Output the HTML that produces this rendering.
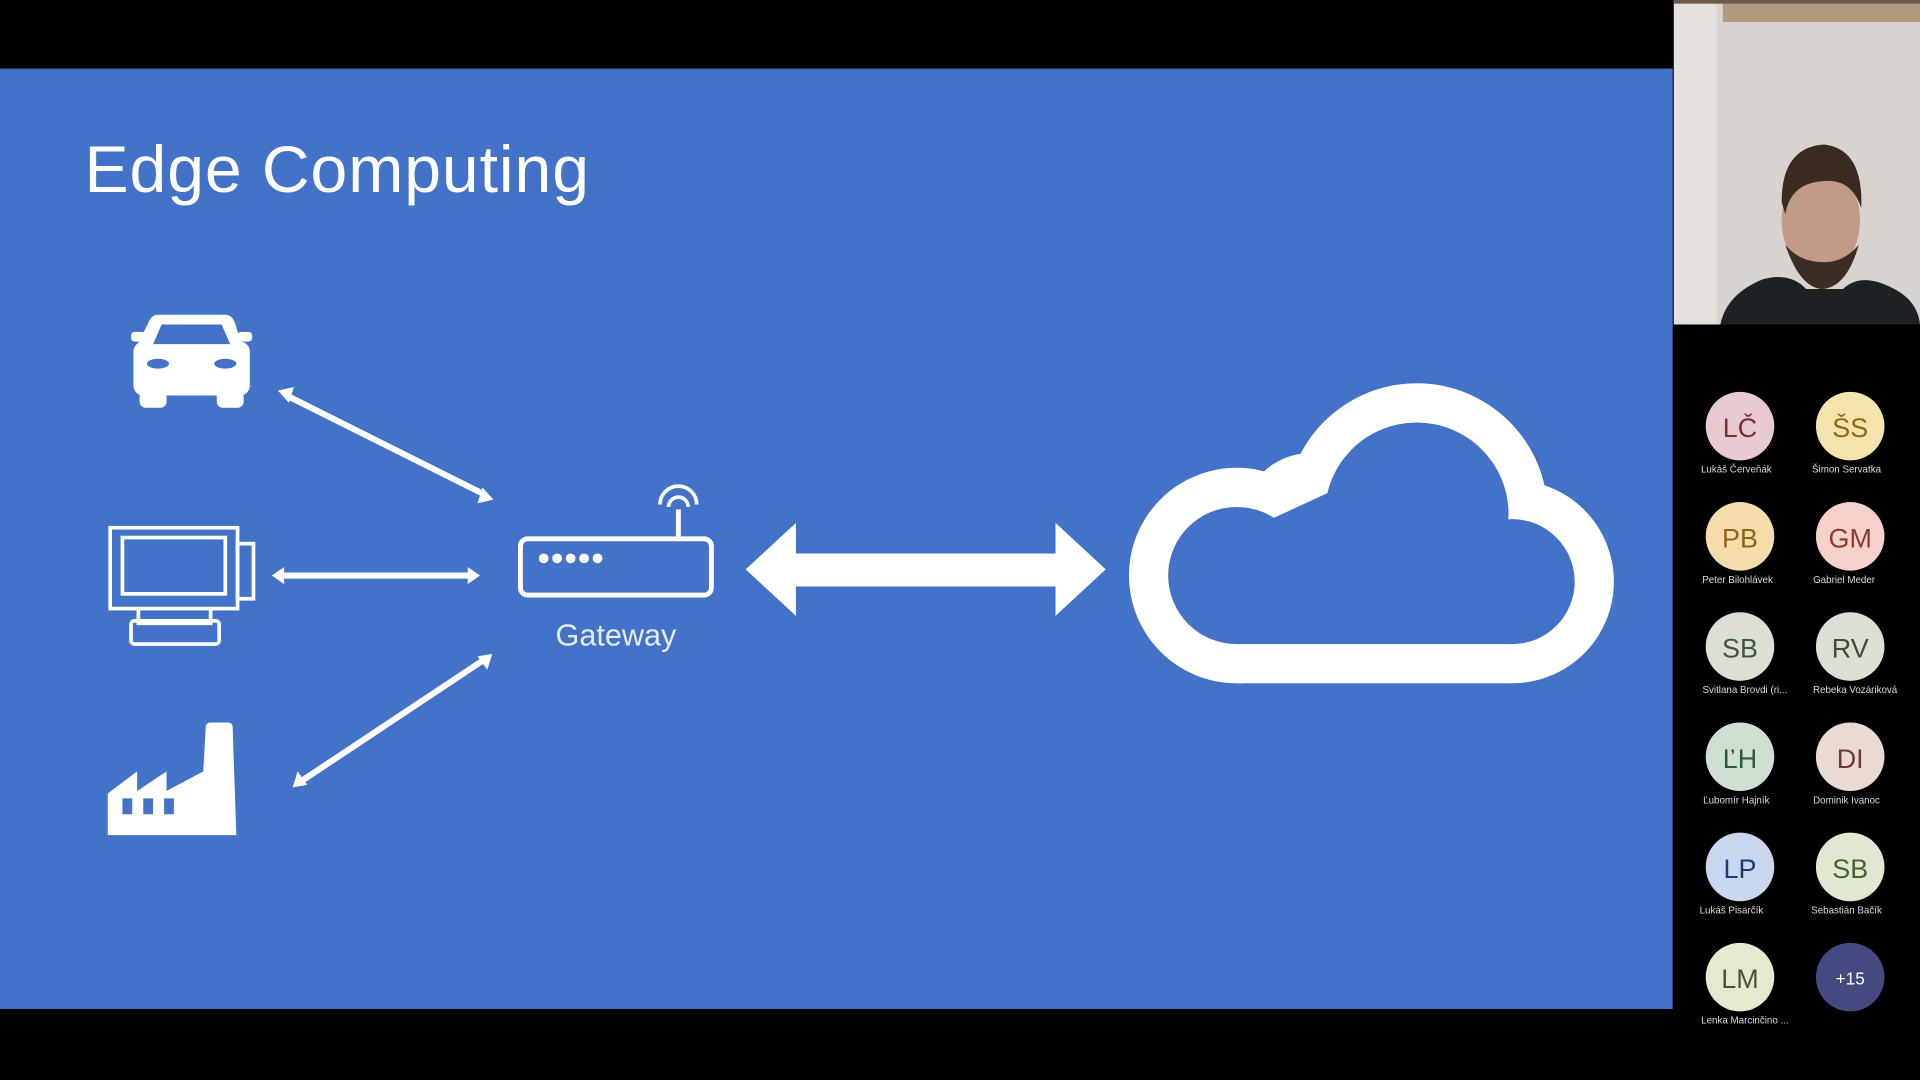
<!DOCTYPE html>
<html><head><meta charset="utf-8"><style>
html,body{margin:0;padding:0;background:#000;}
svg{display:block;}
</style></head><body>
<svg width="1920" height="1080" viewBox="0 0 1568 882" xmlns="http://www.w3.org/2000/svg">
<rect x="0" y="0" width="1568" height="882" fill="#000"/>
<!-- slide -->
<rect x="0" y="56" width="1366" height="768" fill="#4273c8"/>
<text x="69" y="157" font-family="Liberation Sans, sans-serif" font-size="54" fill="#fff" textLength="412">Edge Computing</text>

<!-- car -->
<g fill="#fff">
  <path d="M128,257 L185,257 Q190,258 192,264 L198,284 L111,284 L121,264 Q123,258 128,257 Z"/>
  <rect x="109" y="279" width="95" height="44" rx="8"/>
  <rect x="107" y="271" width="12" height="8" rx="3"/>
  <rect x="194" y="271" width="12" height="8" rx="3"/>
  <rect x="114" y="312" width="22" height="21" rx="5"/>
  <rect x="177" y="312" width="22" height="21" rx="5"/>
</g>
<path d="M132,265 L181,265 L188,281 L125,281 Z" fill="#4273c8"/>
<ellipse cx="129" cy="297" rx="9" ry="4" fill="#4273c8"/>
<ellipse cx="184" cy="297" rx="9" ry="4" fill="#4273c8"/>

<!-- monitor -->
<g fill="none" stroke="#fff" stroke-width="3">
  <rect x="90" y="431" width="104" height="66"/>
  <rect x="100" y="439" width="84" height="46"/>
  <rect x="194" y="444" width="13" height="45"/>
  <path d="M113,497 L113,509 L172,509 L172,497"/>
  <rect x="107" y="507" width="72" height="19" rx="3"/>
</g>

<!-- factory -->
<path d="M88,682 L88,648 L112,630 L112,646 L136,630 L136,646 L166,630 L168,594 Q168,590 172,590 L186,590 Q190,590 190,594 L193,682 Z" fill="#fff"/>
<g fill="#4273c8">
  <rect x="100" y="652" width="8" height="13"/>
  <rect x="117" y="652" width="8" height="13"/>
  <rect x="134" y="652" width="8" height="13"/>
</g>

<!-- small arrows -->
<g stroke="#fff" stroke-width="5" fill="none">
  <line x1="234" y1="323" x2="396" y2="404"/>
  <line x1="229" y1="470" x2="385" y2="470"/>
  <line x1="246" y1="638" x2="395" y2="539"/>
</g>
<g fill="#fff">
  <path d="M227,319 L240,316 L236,329 Z"/>
  <path d="M403,408 L390,411 L394,398 Z"/>
  <path d="M222,470 L232,463 L232,477 Z"/>
  <path d="M392,470 L382,463 L382,477 Z"/>
  <path d="M239,643 L243,630 L251,641 Z"/>
  <path d="M402,534 L398,547 L390,536 Z"/>
</g>

<!-- router -->
<rect x="425" y="440" width="156" height="46" rx="6" fill="none" stroke="#fff" stroke-width="4"/>
<line x1="554" y1="440" x2="554" y2="416" stroke="#fff" stroke-width="4"/>
<path d="M546,414 A8,8 0 0 1 562,414" fill="none" stroke="#fff" stroke-width="3"/>
<path d="M539,412 A15,15 0 0 1 569,412" fill="none" stroke="#fff" stroke-width="3"/>
<g fill="#fff">
  <circle cx="444" cy="456" r="4"/><circle cx="455" cy="456" r="4"/><circle cx="466" cy="456" r="4"/><circle cx="477" cy="456" r="4"/><circle cx="488" cy="456" r="4"/>
</g>
<text x="503" y="527" text-anchor="middle" font-family="Liberation Sans, sans-serif" font-size="25" fill="#e6ecf7">Gateway</text>

<!-- big arrow -->
<path d="M609,465 L650,427 L650,452 L862,452 L862,427 L903,465 L862,503 L862,479 L650,479 L650,503 Z" fill="#fff"/>

<!-- cloud -->
<g fill="#fff">
  <circle cx="1157" cy="420" r="107"/>
  <circle cx="1010" cy="470" r="88"/>
  <circle cx="1235" cy="475" r="83"/>
  <circle cx="1070" cy="425" r="55"/>
  <rect x="1010" y="440" width="225" height="118"/>
</g>
<g fill="#4273c8">
  <circle cx="1157" cy="420" r="75"/>
  <circle cx="1010" cy="470" r="56"/>
  <circle cx="1235" cy="475" r="51"/>
  <rect x="1010" y="440" width="225" height="86"/>
  <path d="M1040,423 L1090,400 L1090,470 L1040,470 Z"/>
</g>

<!-- webcam -->
<rect x="1367" y="0" width="201" height="265" fill="#d9d3cf"/>
<rect x="1367" y="0" width="35" height="265" fill="#e4e0dc"/>
<rect x="1407" y="0" width="161" height="18" fill="#b09a80"/>
<rect x="1367" y="0" width="201" height="3" fill="#6d5a48"/>
<ellipse cx="1487" cy="180" rx="32" ry="44" fill="#c39a86"/>
<path d="M1455,165 Q1455,120 1490,118 Q1522,122 1520,170 Q1512,145 1488,148 Q1462,150 1458,175 Z" fill="#3a2a22"/>
<path d="M1458,200 Q1470,235 1488,236 Q1508,235 1518,200 Q1505,215 1488,214 Q1470,214 1458,200 Z" fill="#3b2c26"/>
<path d="M1405,265 Q1410,240 1440,228 Q1462,222 1475,236 L1505,236 Q1520,222 1545,235 Q1566,245 1568,265 Z" fill="#1d2124"/>

<!-- avatars -->
<g font-family="Liberation Sans, sans-serif" text-anchor="middle">
  <circle cx="1421" cy="348" r="28" fill="#e9cace"/><text x="1421" y="357" font-size="22" fill="#7a2c38">LČ</text>
  <text x="1418" y="386" font-size="8" fill="#ddd">Lukáš Červeňák</text>
  <circle cx="1511" cy="348" r="28" fill="#f5e3ae"/><text x="1511" y="357" font-size="22" fill="#8a6a10">ŠS</text>
  <text x="1508" y="386" font-size="8" fill="#ddd">Šimon Servatka</text>

  <circle cx="1421" cy="438" r="28" fill="#f4dcab"/><text x="1421" y="447" font-size="22" fill="#8a6518">PB</text>
  <text x="1419" y="476" font-size="8" fill="#ddd">Peter Bilohlávek</text>
  <circle cx="1511" cy="438" r="28" fill="#f4d2cb"/><text x="1511" y="447" font-size="22" fill="#8a3b2e">GM</text>
  <text x="1506" y="476" font-size="8" fill="#ddd">Gabriel Meder</text>

  <circle cx="1421" cy="528" r="28" fill="#dcdfd4"/><text x="1421" y="537" font-size="22" fill="#3f5540">SB</text>
  <text x="1425" y="566" font-size="8" fill="#ddd">Svitlana Brovdi (ri...</text>
  <circle cx="1511" cy="528" r="28" fill="#dbe0d4"/><text x="1511" y="537" font-size="22" fill="#3c4d3a">RV</text>
  <text x="1515" y="566" font-size="8" fill="#ddd">Rebeka Vozáriková</text>

  <circle cx="1421" cy="618" r="28" fill="#cfe0d2"/><text x="1421" y="627" font-size="22" fill="#2d5a3a">ĽH</text>
  <text x="1418" y="656" font-size="8" fill="#ddd">Ľubomír Hajník</text>
  <circle cx="1511" cy="618" r="28" fill="#ebd9d3"/><text x="1511" y="627" font-size="22" fill="#6b3a30">DI</text>
  <text x="1508" y="656" font-size="8" fill="#ddd">Dominik Ivanoc</text>

  <circle cx="1421" cy="708" r="28" fill="#c8d6ee"/><text x="1421" y="717" font-size="22" fill="#1f3a70">LP</text>
  <text x="1414" y="746" font-size="8" fill="#ddd">Lukáš Pisarčík</text>
  <circle cx="1511" cy="708" r="28" fill="#e0e8d2"/><text x="1511" y="717" font-size="22" fill="#4a6030">SB</text>
  <text x="1508" y="746" font-size="8" fill="#ddd">Sebastián Bačík</text>

  <circle cx="1421" cy="798" r="28" fill="#e3eacf"/><text x="1421" y="807" font-size="22" fill="#4a5530">LM</text>
  <text x="1425" y="836" font-size="8" fill="#ddd">Lenka Marcinčino ...</text>
  <circle cx="1511" cy="798" r="28" fill="#444a80"/><text x="1511" y="804" font-size="14" fill="#fff">+15</text>
</g>
</svg>
</body></html>
